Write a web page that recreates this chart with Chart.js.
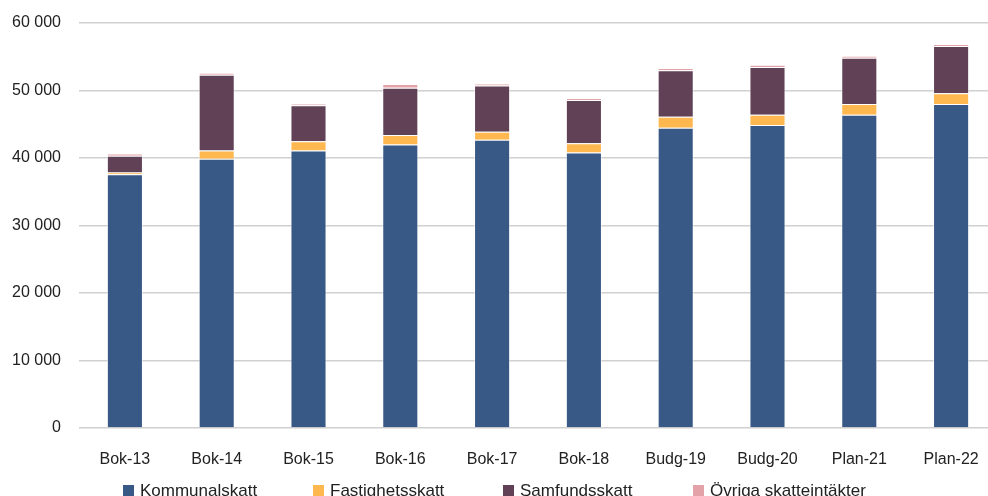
<!DOCTYPE html>
<html>
<head>
<meta charset="utf-8">
<script src="https://cdn.jsdelivr.net/npm/chart.js@4.4.1/dist/chart.umd.min.js"></script>
<style>
  html, body { margin: 0; padding: 0; background: #fff; overflow: hidden; }
  #wrap { position: relative; width: 1000px; height: 496px; }
  #legend { position: absolute; left: 123px; top: 481px; font: 17px "Liberation Sans", Arial, sans-serif; color: #222; white-space: nowrap; }
  #legend span.item { display: inline-block; width: 190px; }
  #legend span.box { display: inline-block; width: 11px; height: 11px; margin-right: 6px; vertical-align: 0px; }
</style>
</head>
<body>
<div id="wrap">
  <canvas id="myChart" width="1000" height="496"></canvas>
  <div id="legend"></div>
</div>
<script>
var labels = ["Bok-13","Bok-14","Bok-15","Bok-16","Bok-17","Bok-18","Budg-19","Budg-20","Plan-21","Plan-22"];
var kommunalskatt = [37600, 39900, 41100, 42000, 42700, 40800, 44500, 44900, 46400, 48000];
var fastighetsskatt = [250, 1200, 1400, 1400, 1200, 1400, 1600, 1500, 1600, 1600];
var samfundsskatt = [2500, 11250, 5300, 7000, 6850, 6400, 6900, 7100, 6860, 7000];
var ovriga = [300, 250, 250, 550, 250, 250, 350, 300, 250, 250];
var seriesNames = ["Kommunalskatt", "Fastighetsskatt", "Samfundsskatt", "Övriga skatteintäkter"];
var seriesColors = ["#385885", "#FFB74F", "#604155", "#E3A2A8"];
var yTicks = [0, 10000, 20000, 30000, 40000, 50000, 60000];

function fmt(v){
    return String(v).replace(/\B(?=(\d{3})+(?!\d))/g, " ");
}

var allData = [kommunalskatt, fastighetsskatt, samfundsskatt, ovriga];
var datasets = allData.map(function(d, i){
    return {
        label: seriesNames[i],
        data: d,
        backgroundColor: seriesColors[i],
        borderColor: "rgba(255,255,255,0.55)",
        borderWidth: 1,
        categoryPercentage: 1,
        barPercentage: 0.393
    };
});

var font = { family: "'Liberation Sans', Arial, sans-serif", size: 16 };

let ctx = document.getElementById('myChart').getContext('2d');
let myChart = new Chart(ctx, {
    type: 'bar',
    data: { labels: labels, datasets: datasets },
    options: {
        responsive: false,
        animation: false,
        layout: { padding: { top: 23, right: 3, left: 0, bottom: 0 } },
        plugins: { legend: { display: false }, tooltip: { enabled: false } },
        scales: {
            x: {
                stacked: true,
                grid: { display: false },
                border: { display: false },
                ticks: { color: "#222", font: font, padding: 14, maxRotation: 0 },
                afterFit: function(s){ s.height = 68; }
            },
            y: {
                stacked: true,
                min: 0,
                max: 60000,
                afterBuildTicks: function(s){ s.ticks = yTicks.map(function(v){ return { value: v }; }); },
                grid: { color: "#d0d0d0", lineWidth: 1.5, drawTicks: false },
                border: { display: false },
                ticks: { color: "#222", font: font, padding: 18, callback: function(v){ return fmt(v); } },
                afterFit: function(s){ s.width = 79; s.paddingTop = 0; s.paddingBottom = 0; }
            }
        }
    }
});

var leg = document.getElementById('legend');
seriesNames.forEach(function(n, i){
    var item = document.createElement('span');
    item.className = 'item';
    var box = document.createElement('span');
    box.className = 'box';
    box.style.background = seriesColors[i];
    item.appendChild(box);
    item.appendChild(document.createTextNode(n));
    leg.appendChild(item);
});
</script>
</body>
</html>
